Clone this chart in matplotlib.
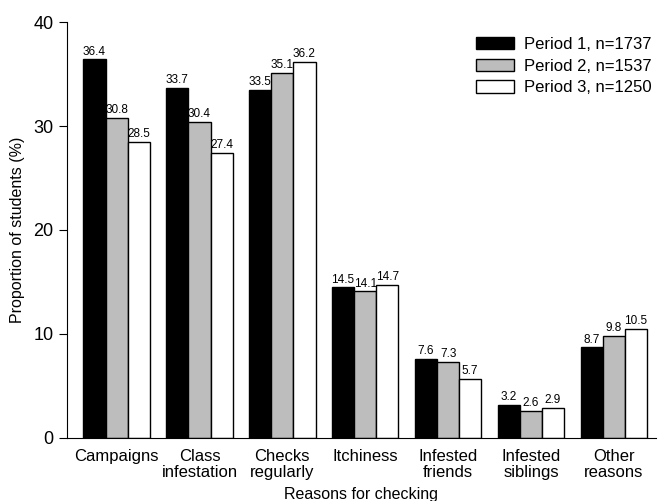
import numpy as np
import matplotlib.pyplot as plt

plt.rcParams['font.family'] = ['Liberation Sans', 'DejaVu Sans']

reasons = ['Campaigns', 'Class\ninfestation', 'Checks\nregularly', 'Itchiness',
           'Infested\nfriends', 'Infested\nsiblings', 'Other\nreasons']
period1 = [36.4, 33.7, 33.5, 14.5, 7.6, 3.2, 8.7]
period2 = [30.8, 30.4, 35.1, 14.1, 7.3, 2.6, 9.8]
period3 = [28.5, 27.4, 36.2, 14.7, 5.7, 2.9, 10.5]
labels = ['Period 1, n=1737', 'Period 2, n=1537', 'Period 3, n=1250']
colors = ['black', '#bdbdbd', 'white']

fig = plt.figure(figsize=(6.62, 5.01), dpi=100)
ax = fig.add_axes([0.101, 0.126, 0.89, 0.83])

x = np.arange(len(reasons))
w = 0.267
for i, (vals, lab, col) in enumerate(zip([period1, period2, period3], labels, colors)):
    pos = x + (i - 1) * w
    ax.bar(pos, vals, w, color=col, edgecolor='black', linewidth=1.0, label=lab)
    for p, v in zip(pos, vals):
        ax.text(p, v + 0.15, f'{v:.1f}', ha='center', va='bottom', fontsize=8.5)

ax.set_xlim(-0.6, 6.51)
ax.set_ylim(0, 40)
ax.set_yticks([0, 10, 20, 30, 40])
ax.set_xticks(x)
ax.set_xticklabels(reasons, fontsize=12, linespacing=1.05)
ax.tick_params(axis='x', length=0, pad=8)
ax.tick_params(axis='y', labelsize=13, direction='out', length=6)
ax.spines['top'].set_visible(False)
ax.spines['right'].set_visible(False)
ax.set_ylabel('Proportion of students (%)', fontsize=11.5, labelpad=6)
ax.set_xlabel('Reasons for checking', fontsize=11.5, labelpad=5)

ax.legend(loc='upper right', frameon=False, fontsize=12, handlelength=2.3,
          handleheight=0.75, labelspacing=0.4, handletextpad=0.6,
          bbox_to_anchor=(1.018, 1.0))

fig.savefig('out.png', dpi=100)
